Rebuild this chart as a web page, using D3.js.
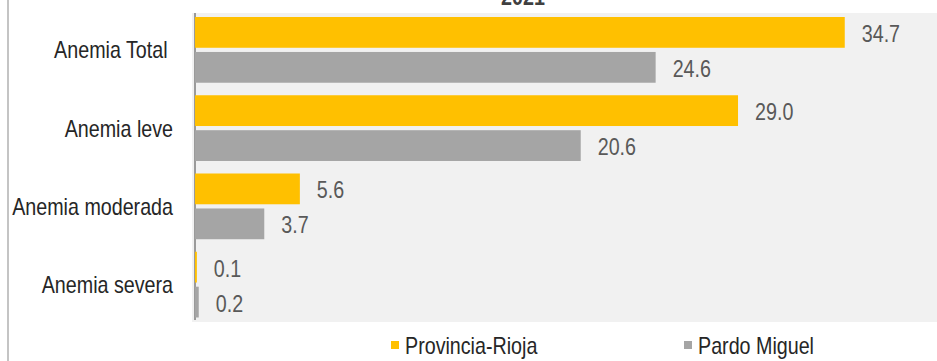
<!DOCTYPE html>
<html>
<head>
<meta charset="utf-8">
<script src="https://cdn.jsdelivr.net/npm/d3@7"></script>
<style>
  html, body { margin: 0; padding: 0; background: #fff; }
  svg { display: block; }
  text { font-family: "Liberation Sans", Arial, sans-serif; white-space: pre; }
</style>
</head>
<body>
<svg id="chart" width="937" height="361"></svg>
<script>
// Anemia prevalence by severity, 2021
const title = "2021";
const categories = ["Anemia Total ", "Anemia leve", "Anemia moderada", "Anemia severa"];
const seriesNames = ["Provincia-Rioja", "Pardo Miguel"];
const provinciaRioja = [34.7, 29.0, 5.6, 0.1];
const pardoMiguel = [24.6, 20.6, 3.7, 0.2];
const seriesColors = ["#FFC000", "#A5A5A5"];

const seriesValues = [provinciaRioja, pardoMiguel];
const rows = categories.map((c, i) => ({
  category: c,
  values: seriesNames.map((s, j) => ({ series: s, value: seriesValues[j][i], color: seriesColors[j] }))
}));

// condensed look: squeeze glyphs horizontally to a narrow width
const NARROW = 0.82;
function narrow(sel) {
  sel.each(function () {
    const len = this.getComputedTextLength();
    if (len > 0) {
      d3.select(this).attr("textLength", len * NARROW).attr("lengthAdjust", "spacingAndGlyphs");
    }
  });
}

const svg = d3.select("#chart");
const W = 937, H = 361;

// outer frame edge on the left
svg.append("rect").attr("x", 7).attr("y", 0).attr("width", 2).attr("height", H).attr("fill", "#c4c4c4");

// plot area
const plot = { left: 192, top: 13, right: 940, bottom: 322 };
svg.append("rect")
  .attr("x", plot.left).attr("y", plot.top)
  .attr("width", plot.right - plot.left).attr("height", plot.bottom - plot.top)
  .attr("fill", "#F1F1F1");

const x = d3.scaleLinear().domain([0, 40]).range([195, 944]);
const y = d3.scaleBand().domain(categories).range([10.74, 323.74]).paddingInner(0.16).paddingOuter(0.08);
const ySub = d3.scaleBand().domain(seriesNames).range([0, y.bandwidth()]).paddingInner(0.12);

// category axis line
svg.append("line")
  .attr("x1", x(0)).attr("x2", x(0))
  .attr("y1", plot.top).attr("y2", plot.bottom - 2)
  .attr("stroke", "#9a9a9a").attr("stroke-width", 2);

const groups = svg.append("g").selectAll("g").data(rows).join("g")
  .attr("transform", d => `translate(0,${y(d.category)})`);

groups.selectAll("rect").data(d => d.values).join("rect")
  .attr("x", x(0))
  .attr("y", d => ySub(d.series))
  .attr("width", d => x(d.value) - x(0))
  .attr("height", ySub.bandwidth())
  .attr("fill", d => d.color);

groups.selectAll("text.val").data(d => d.values).join("text")
  .attr("class", "val")
  .attr("x", d => x(d.value) + 17)
  .attr("y", d => ySub(d.series) + ySub.bandwidth() / 2 + 1)
  .attr("dominant-baseline", "central")
  .attr("font-size", 24)
  .attr("fill", "#595959")
  .text(d => d.value.toFixed(1))
  .call(narrow);

// category labels
const yAxis = d3.axisLeft(y).tickSize(0).tickPadding(0);
const yAxisG = svg.append("g").attr("transform", "translate(173,0)").call(yAxis);
yAxisG.select(".domain").remove();
yAxisG.selectAll("text")
  .attr("font-size", 24)
  .attr("fill", "#262626")
  .attr("dy", "0.35em")
  .style("font-family", null)
  .call(narrow);

// title
svg.append("text")
  .attr("x", 523).attr("y", 5)
  .attr("text-anchor", "middle")
  .attr("font-size", 24).attr("font-weight", "bold")
  .attr("fill", "#404040")
  .text(title)
  .call(narrow);

// legend
const legendX = [391, 684];
const legend = svg.append("g").selectAll("g").data(seriesNames).join("g")
  .attr("transform", (d, i) => `translate(${legendX[i]},345)`);
legend.append("rect")
  .attr("x", 0).attr("y", -4).attr("width", 8).attr("height", 8)
  .attr("fill", (d, i) => seriesColors[i]);
legend.append("text")
  .attr("x", 14).attr("y", 0)
  .attr("dominant-baseline", "central")
  .attr("font-size", 24)
  .attr("fill", "#262626")
  .text(d => d)
  .call(narrow);
</script>
</body>
</html>
